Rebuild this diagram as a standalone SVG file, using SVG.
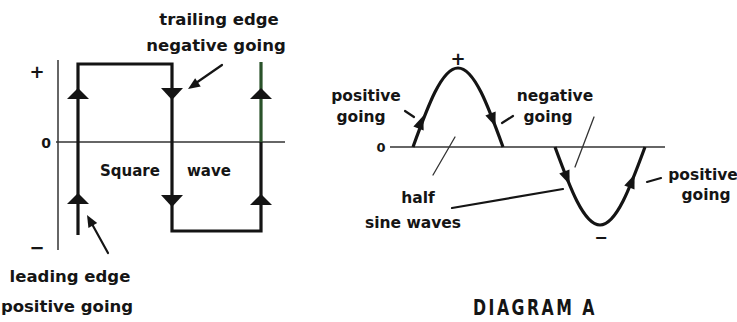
<svg xmlns="http://www.w3.org/2000/svg" width="737" height="322" viewBox="0 0 737 322">
<defs>
<style>
text{font-family:"DejaVu Sans","Liberation Sans",sans-serif;font-weight:bold;font-size:15.5px;fill:#151515}
.m{text-anchor:middle}
.big{font-size:16.5px}
.wave{fill:none;stroke:#141414;stroke-width:3.2;stroke-linejoin:miter}
.axis{fill:none;stroke:#333;stroke-width:1.5}
.ptr{fill:none;stroke:#151515;stroke-width:2.2;stroke-linecap:round}
.thin{fill:none;stroke:#333;stroke-width:1.3;stroke-linecap:round}
.ah{fill:#141414}
</style>
<path id="up" d="M0,0 L11,11 L-11,11 Z"/>
<path id="down" d="M0,0 L11,-12 L-11,-12 Z"/>
<path id="sa" d="M7,0 L-7,-5.5 L-7,5.5 Z"/>
<path id="pa" d="M0,0 L-12,-5 L-12,5 Z"/>
</defs>

<g id="square-wave-diagram">
  <g id="axes">
    <line class="axis" x1="58" y1="60" x2="58" y2="250"/>
    <line class="axis" x1="56" y1="142" x2="285" y2="142" stroke="#3a4a3a"/>
  </g>
  <g id="axis-labels">
    <text x="37" y="78" class="m" style="font-size:18px">+</text>
    <text x="46" y="148" class="m" style="font-size:14px">0</text>
    <text x="37" y="254" class="m" style="font-size:18px">−</text>
  </g>
  <g id="square-wave">
    <path class="wave" d="M78,235 V64 H172 V231 H261 V142"/>
    <line x1="261" y1="142" x2="261" y2="62" stroke="#2a522a" stroke-width="3.2"/>
    <use href="#up" class="ah" transform="translate(78,88)"/>
    <use href="#up" class="ah" transform="translate(78,193)"/>
    <use href="#down" class="ah" transform="translate(172,100)"/>
    <use href="#down" class="ah" transform="translate(172,207)"/>
    <use href="#up" class="ah" transform="translate(261,88)"/>
    <use href="#up" class="ah" transform="translate(261,194)"/>
    <text x="100" y="176" style="font-size:15px">Square</text>
    <text x="187" y="176" style="font-size:15px">wave</text>
  </g>
  <g id="trailing-edge-label">
    <text x="219" y="25" class="m big">trailing edge</text>
    <text x="216" y="51" class="m big">negative going</text>
  </g>
  <g id="leading-edge-label">
    <text x="70" y="282" class="m big">leading edge</text>
    <text x="67" y="312" class="m big">positive going</text>
  </g>
</g>

<g id="sine-wave-diagram">
  <line class="axis" x1="390" y1="147" x2="665" y2="147" stroke-width="2"/>
  <text x="381" y="152" class="m" style="font-size:13px">0</text>
  <g id="sine-curve">
    <path class="wave" d="M413,147 C427.7,106.5 441.7,68 458,68 C474.3,68 488.3,106.5 503,147"/>
    <path class="wave" d="M555,147 C569.7,187 583.7,225 600,225 C616.3,225 630.3,187 645,147"/>
    <use href="#sa" class="ah" transform="translate(421,122) rotate(-69)"/>
    <use href="#sa" class="ah" transform="translate(493,120) rotate(69)"/>
    <use href="#sa" class="ah" transform="translate(567,178) rotate(68)"/>
    <use href="#sa" class="ah" transform="translate(632,181) rotate(-68)"/>
    <text x="458" y="65" class="m" style="font-size:18px">+</text>
    <text x="601" y="243" class="m" style="font-size:16px">−</text>
  </g>
  <g id="positive-going-left">
    <text x="366" y="101" class="m">positive</text>
    <text x="361" y="122" class="m">going</text>
  </g>
  <g id="negative-going">
    <text x="555" y="101" class="m">negative</text>
    <text x="548" y="122" class="m">going</text>
  </g>
  <g id="half-sine-waves">
    <text x="418" y="203" class="m">half</text>
    <text x="413" y="228" class="m">sine waves</text>
  </g>
  <g id="positive-going-right">
    <text x="703" y="180" class="m">positive</text>
    <text x="706" y="200" class="m">going</text>
  </g>
  <text x="535" y="315" class="m" style="font-family:'DejaVu Sans Condensed','DejaVu Sans',sans-serif;font-size:21px;letter-spacing:3px" textLength="124" lengthAdjust="spacingAndGlyphs">DIAGRAM A</text>
</g>

<g id="connectors">
  <line class="ptr" x1="222" y1="65" x2="196" y2="83"/>
  <use href="#pa" class="ah" transform="translate(188,89) rotate(146)"/>
  <line class="ptr" x1="108" y1="253" x2="92" y2="224"/>
  <use href="#pa" class="ah" transform="translate(87,215) rotate(241)"/>
  <line class="ptr" x1="405" y1="111" x2="414" y2="117"/>
  <line class="ptr" x1="502" y1="123" x2="513" y2="116"/>
  <line class="thin" x1="594" y1="117" x2="575" y2="167"/>
  <line class="thin" x1="433" y1="175" x2="455" y2="137"/>
  <line class="ptr" x1="452" y1="208" x2="563" y2="189" stroke-width="1.8"/>
  <line class="ptr" x1="647" y1="182" x2="661" y2="178"/>
</g>
</svg>
